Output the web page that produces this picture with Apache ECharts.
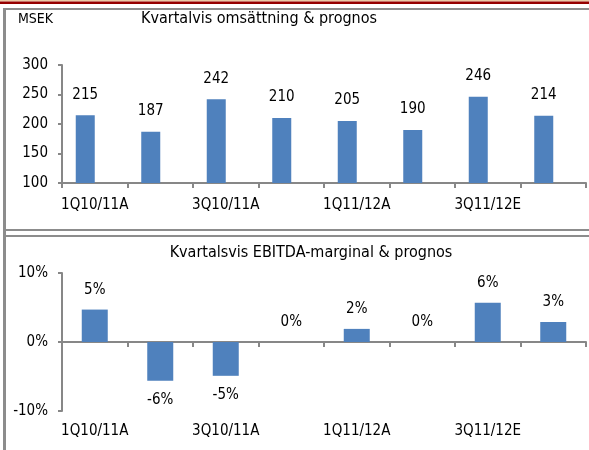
<!DOCTYPE html>
<html>
<head>
<meta charset="utf-8">
<script src="https://cdn.jsdelivr.net/npm/echarts@6/dist/echarts.min.js"></script>
<style>
  html, body { margin: 0; padding: 0; background: #fff; }
  #chart { width: 589px; height: 450px; }
</style>
</head>
<body>
<div id="chart"></div>
<script>
var kvartal = ['1Q10/11A', '2Q10/11A', '3Q10/11A', '4Q10/11A', '1Q11/12A', '2Q11/12A', '3Q11/12E', '4Q11/12E'];
var omsattning = [215, 187, 242, 210, 205, 190, 246, 214];
var tomSerie = [null, null, null, null, null, null, null, null];
var ebitdaMarginal = [4.7, -5.6, -4.9, 0, 1.9, 0, 5.7, 2.9];
var omsTicks = { min: 100, max: 300, interval: 50 };
var marginalTicks = { min: -10, max: 10, interval: 10 };

var font = '"DejaVu Sans Condensed", "DejaVu Sans", sans-serif';
var axisGrey = '#878787';
var barBlue = '#4F81BD';

// negativa staplar får etiketten under
var marginalData = ebitdaMarginal.map(function (v) {
  return { value: v, label: { position: v < 0 ? 'bottom' : 'top' } };
});

var myChart = echarts.init(document.getElementById('chart'));
var option = {
  animation: false,
  textStyle: { fontFamily: font },
  title: [
    { text: 'MSEK', left: 13, top: 7, textStyle: { fontSize: 14, fontWeight: 'normal', color: '#000', fontFamily: font } },
    { text: 'Kvartalvis omsättning & prognos', left: 254, textAlign: 'center', top: 6, textStyle: { fontSize: 16, fontWeight: 'normal', color: '#000', fontFamily: font } },
    { text: 'Kvartalsvis EBITDA-marginal & prognos', left: 306, textAlign: 'center', top: 240, textStyle: { fontSize: 16, fontWeight: 'normal', color: '#000', fontFamily: font } }
  ],
  graphic: [
    { type: 'rect', shape: { x: 0, y: 0, width: 589, height: 1.5 }, style: { fill: '#EBC9A6' } },
    { type: 'rect', shape: { x: 0, y: 1.5, width: 589, height: 2.5 }, style: { fill: '#960000' } },
    { type: 'rect', shape: { x: 3, y: 8, width: 586, height: 2 }, style: { fill: '#8C8C8C' } },
    { type: 'rect', shape: { x: 3, y: 8, width: 3, height: 442 }, style: { fill: '#8C8C8C' } },
    { type: 'rect', shape: { x: 3, y: 229, width: 586, height: 2 }, style: { fill: '#8C8C8C' } },
    { type: 'rect', shape: { x: 3, y: 235, width: 586, height: 2 }, style: { fill: '#8C8C8C' } }
  ],
  grid: [
    { left: 62, right: 3, top: 65, height: 118 },
    { left: 62, right: 3, top: 273, height: 138 }
  ],
  xAxis: [
    {
      type: 'category', gridIndex: 0, data: kvartal,
      axisLine: { lineStyle: { color: axisGrey, width: 2 } },
      axisTick: { show: true, interval: 0, length: 5, lineStyle: { color: axisGrey, width: 2 } },
      axisLabel: { interval: 1, margin: 15, fontSize: 15, color: '#000', fontFamily: font }
    },
    {
      type: 'category', gridIndex: 1, data: kvartal,
      axisLine: { onZero: true, lineStyle: { color: axisGrey, width: 2 } },
      axisTick: { show: true, interval: 0, length: 5, lineStyle: { color: axisGrey, width: 2 } },
      axisLabel: { show: false }
    },
    {
      type: 'category', gridIndex: 1, data: kvartal, position: 'bottom',
      axisLine: { show: false, onZero: false },
      axisTick: { show: false },
      axisLabel: { interval: 1, margin: 13, fontSize: 15, color: '#000', fontFamily: font }
    }
  ],
  yAxis: [
    {
      type: 'value', gridIndex: 0, min: omsTicks.min, max: omsTicks.max, interval: omsTicks.interval,
      splitLine: { show: false },
      axisLine: { show: true, lineStyle: { color: axisGrey, width: 2 } },
      axisTick: { show: true, length: 4, lineStyle: { color: axisGrey, width: 2 } },
      axisLabel: { margin: 14, fontSize: 15, color: '#000', fontFamily: font }
    },
    {
      type: 'value', gridIndex: 1, min: marginalTicks.min, max: marginalTicks.max, interval: marginalTicks.interval,
      splitLine: { show: false },
      axisLine: { show: true, lineStyle: { color: axisGrey, width: 2 } },
      axisTick: { show: true, length: 4, lineStyle: { color: axisGrey, width: 2 } },
      axisLabel: { margin: 14, fontSize: 15, color: '#000', fontFamily: font, formatter: '{value}%' }
    }
  ],
  series: [
    {
      name: 'Omsättning', type: 'bar', xAxisIndex: 0, yAxisIndex: 0,
      data: omsattning, barWidth: 19, barGap: '0%',
      itemStyle: { color: barBlue },
      label: { show: true, position: 'top', distance: 13, fontSize: 15, color: '#000', fontFamily: font }
    },
    {
      // tom serie, ger samma förskjutning av staplarna som i originalet
      name: 'tom', type: 'bar', xAxisIndex: 0, yAxisIndex: 0,
      data: tomSerie, barWidth: 19
    },
    {
      name: 'EBITDA-marginal', type: 'bar', xAxisIndex: 1, yAxisIndex: 1,
      data: marginalData, barWidth: 26,
      itemStyle: { color: barBlue },
      label: {
        show: true, distance: 12, fontSize: 15, color: '#000', fontFamily: font,
        formatter: function (p) { return p.value.toFixed(0) + '%'; }
      }
    }
  ]
};
myChart.setOption(option);
</script>
</body>
</html>
